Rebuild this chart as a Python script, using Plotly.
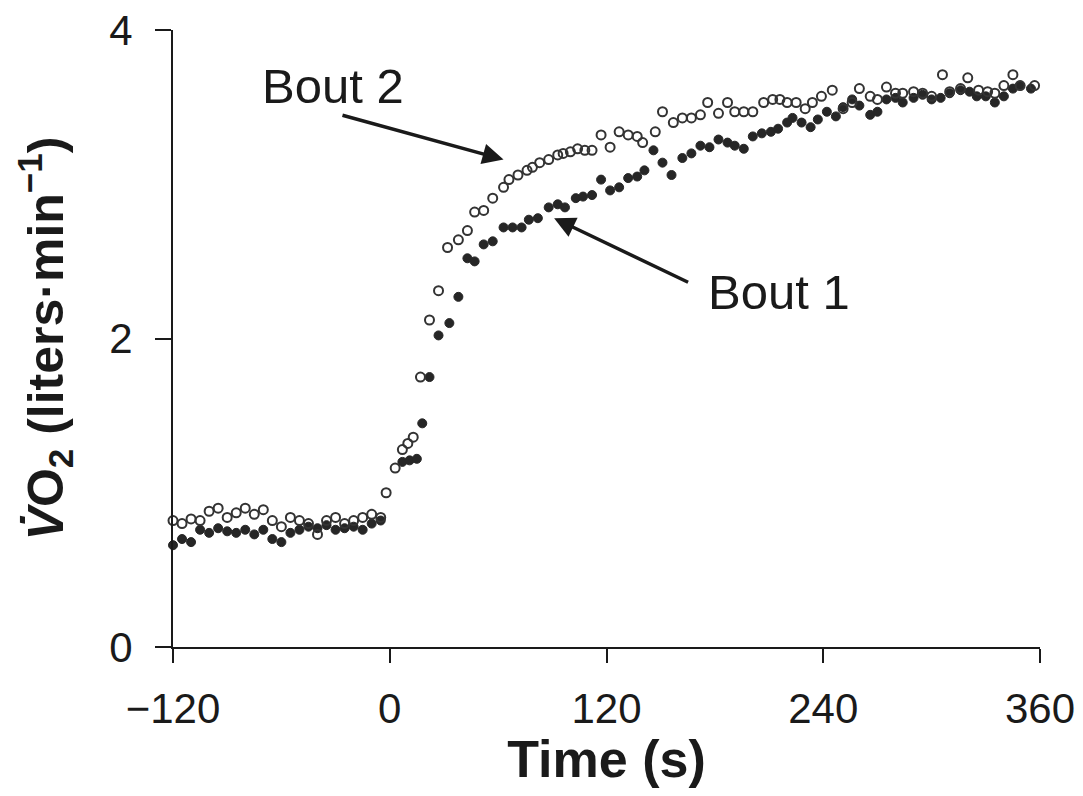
import plotly.graph_objects as go

# ---- Bout 2 (open circles) ----
bout2_t = [-120, -115, -110, -105, -100, -95, -90, -85, -80, -75, -70, -65, -60, -55, -50, -45,
           -40, -35, -30, -25, -20, -15, -10, -5, -2,
           3, 7, 10, 13, 17, 22, 27, 32, 38, 43, 47, 52, 57, 63, 66, 71, 76, 79, 83, 88, 93, 96,
           100, 104, 108, 112, 117, 122, 127, 132, 137, 140, 147, 151, 157, 162, 167, 172, 176,
           182, 187, 191, 196, 201, 207, 212, 216, 220, 225, 230, 234, 239, 245, 251, 256, 260,
           266, 270, 275, 280, 284, 290, 295, 300, 306, 310, 316, 320, 326, 331, 335, 340, 345,
           349, 357]
bout2_v = [0.82, 0.80, 0.83, 0.82, 0.88, 0.90, 0.84, 0.87, 0.90, 0.86, 0.89, 0.82, 0.78, 0.84,
           0.82, 0.80, 0.73, 0.82, 0.84, 0.80, 0.82, 0.84, 0.86, 0.84, 1.00,
           1.16, 1.28, 1.32, 1.36, 1.75, 2.12, 2.31, 2.59, 2.64, 2.70, 2.82, 2.83, 2.91, 2.98,
           3.03, 3.06, 3.09, 3.11, 3.14, 3.16, 3.19, 3.20, 3.21, 3.23, 3.22, 3.22, 3.32, 3.24,
           3.34, 3.32, 3.31, 3.27, 3.34, 3.47, 3.40, 3.43, 3.43, 3.45, 3.53, 3.46, 3.53, 3.47,
           3.47, 3.47, 3.53, 3.55, 3.55, 3.53, 3.53, 3.49, 3.53, 3.57, 3.61, 3.49, 3.53, 3.62,
           3.57, 3.55, 3.63, 3.59, 3.59, 3.60, 3.59, 3.57, 3.71, 3.60, 3.62, 3.69, 3.61, 3.60,
           3.59, 3.64, 3.71, 3.64, 3.64]

# ---- Bout 1 (filled circles) ----
bout1_t = [-120, -115, -110, -105, -100, -95, -90, -85, -80, -75, -70, -65, -60, -55, -50, -45,
           -40, -35, -30, -25, -20, -15, -10, -5,
           7, 11, 15, 18, 22, 27, 33, 38, 43, 47, 52, 57, 63, 68, 73, 77, 82, 88, 93, 97, 103,
           107, 112, 117, 122, 127, 132, 137, 141, 146, 151, 156, 162, 167, 172, 177, 182, 187,
           191, 196, 201, 206, 211, 215, 220, 223, 228, 233, 237, 242, 247, 251, 256, 260, 266,
           270, 275, 280, 284, 290, 295, 300, 305, 310, 316, 321, 325, 330, 335, 340, 345, 349,
           355]
bout1_v = [0.66, 0.70, 0.68, 0.76, 0.74, 0.77, 0.75, 0.74, 0.76, 0.73, 0.76, 0.70, 0.68, 0.74,
           0.76, 0.78, 0.77, 0.79, 0.76, 0.77, 0.78, 0.76, 0.80, 0.82,
           1.20, 1.21, 1.22, 1.45, 1.75, 2.02, 2.10, 2.27, 2.52, 2.50, 2.61, 2.63, 2.72, 2.72,
           2.72, 2.77, 2.78, 2.85, 2.87, 2.85, 2.91, 2.92, 2.93, 3.03, 2.96, 2.98, 3.04, 3.05,
           3.09, 3.22, 3.14, 3.06, 3.17, 3.20, 3.25, 3.24, 3.29, 3.27, 3.25, 3.23, 3.31, 3.33,
           3.34, 3.36, 3.40, 3.43, 3.40, 3.37, 3.42, 3.47, 3.44, 3.50, 3.55, 3.51, 3.45, 3.47,
           3.55, 3.56, 3.53, 3.56, 3.58, 3.55, 3.56, 3.59, 3.61, 3.60, 3.57, 3.57, 3.53, 3.57,
           3.62, 3.64, 3.62]

x_ticks = [-120, 0, 120, 240, 360]
x_tick_labels = ["\u2212120", "0", "120", "240", "360"]
y_ticks = [0, 2, 4]

FONT = "Liberation Sans, Arial, Helvetica, sans-serif"
INK = "#1a1a1a"

fig = go.Figure()
fig.add_trace(go.Scatter(
    x=bout1_t, y=bout1_v, mode="markers", name="Bout 1",
    marker=dict(symbol="circle", size=9, color="#262626", line=dict(color="#262626", width=1)),
    cliponaxis=False))
fig.add_trace(go.Scatter(
    x=bout2_t, y=bout2_v, mode="markers", name="Bout 2",
    marker=dict(symbol="circle-open", size=9, color="#333333", line=dict(width=2)),
    cliponaxis=False))

# arrows
fig.add_annotation(x=63, y=3.16, ax=-27, ay=3.45, xref="x", yref="y", axref="x", ayref="y",
                   text="", showarrow=True, arrowhead=2, arrowsize=1.2, arrowwidth=3.5,
                   arrowcolor=INK)
fig.add_annotation(x=91, y=2.78, ax=166, ay=2.36, xref="x", yref="y", axref="x", ayref="y",
                   text="", showarrow=True, arrowhead=2, arrowsize=1.2, arrowwidth=3.5,
                   arrowcolor=INK)
fig.add_annotation(x=-31.5, y=3.64, xref="x", yref="y", text="Bout 2", showarrow=False,
                   font=dict(family=FONT, size=49, color=INK))
fig.add_annotation(x=215.5, y=2.30, xref="x", yref="y", text="Bout 1", showarrow=False,
                   font=dict(family=FONT, size=49, color=INK))

fig.update_layout(
    width=1067, height=780,
    margin=dict(l=165, r=35, t=22, b=141, autoexpand=False),
    plot_bgcolor="white", paper_bgcolor="white",
    showlegend=False,
    font=dict(family=FONT, color=INK),
)
fig.update_xaxes(
    range=[-120, 360], tickvals=x_ticks, ticktext=x_tick_labels, automargin=False,
    showgrid=False, zeroline=False, showline=True, linecolor=INK, linewidth=2,
    ticks="outside", ticklen=14, tickwidth=2, tickcolor=INK, ticklabelstandoff=10,
    ticklabeloverflow="allow",
    tickfont=dict(family=FONT, size=42, color=INK),
    title=dict(text="<b>Time (s)</b>", font=dict(family=FONT, size=52, color=INK), standoff=18),
)
fig.update_yaxes(
    range=[0, 4], tickvals=y_ticks, automargin=False,
    showgrid=False, zeroline=False, showline=True, linecolor=INK, linewidth=2,
    ticks="outside", ticklen=16, tickwidth=2, tickcolor=INK, ticklabelstandoff=14,
    ticklabeloverflow="allow",
    tickfont=dict(family=FONT, size=42, color=INK),
    title=dict(text="<b><i>V\u0307</i>O<sub>2</sub> (liters\u00b7min<sup>\u22121</sup>)</b>",
               font=dict(family=FONT, size=50, color=INK), standoff=30),
)

fig.write_html("out.html")
